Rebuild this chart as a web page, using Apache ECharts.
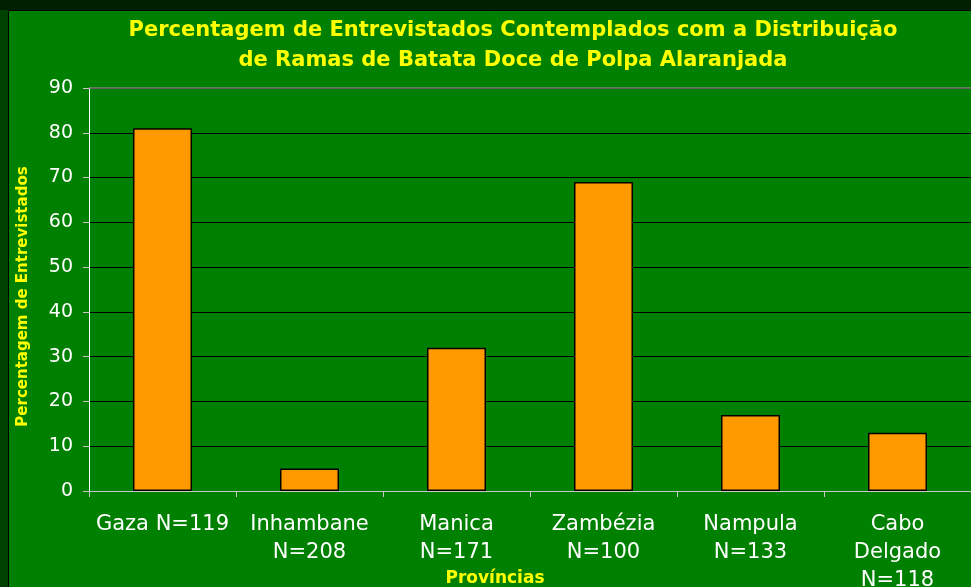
<!DOCTYPE html>
<html><head><meta charset="utf-8">
<script src="https://cdn.jsdelivr.net/npm/echarts@6/dist/echarts.min.js"></script>
<style>html,body{margin:0;padding:0;background:#008000;}#c{width:971px;height:587px;}</style>
</head><body><div id="c"></div>
<script>
const categories = ['Gaza N=119', 'Inhambane\nN=208', 'Manica\nN=171', 'Zambézia\nN=100', 'Nampula\nN=133', 'Cabo\nDelgado\nN=118'];
const values = [81, 5, 32, 69, 17, 13];
const titleText = 'Percentagem de Entrevistados Contemplados com a Distribuição\nde Ramas de Batata Doce de Polpa Alaranjada';
const yName = 'Percentagem de Entrevistados';
const xName = 'Províncias';
const yMax = 90;

const FONT = 'DejaVu Sans';
const chart = echarts.init(document.getElementById('c'));
chart.setOption({
  backgroundColor: '#008000',
  animation: false,
  graphic: [
    {type: 'rect', shape: {x: 0, y: 0, width: 971, height: 10}, style: {fill: '#002000'}, z: -10},
    {type: 'rect', shape: {x: 0, y: 0, width: 8, height: 587}, style: {fill: '#004000'}, z: -10},
    {type: 'rect', shape: {x: 0, y: 0, width: 8, height: 10}, style: {fill: '#002000'}, z: -9},
    {type: 'line', shape: {x1: 8, y1: 10.5, x2: 971, y2: 10.5}, style: {stroke: '#000000', lineWidth: 1}, z: -8},
    {type: 'line', shape: {x1: 8.5, y1: 10, x2: 8.5, y2: 587}, style: {stroke: '#000000', lineWidth: 1}, z: -8}
  ],
  title: {
    text: titleText,
    left: 508, top: 11, textAlign: 'center',
    textStyle: {color: '#ffff00', fontSize: 21, fontWeight: 'bold', fontFamily: FONT, lineHeight: 30}
  },
  grid: {left: 89, right: 0, top: 88, bottom: 96, outerBoundsMode: 'none', containLabel: false},
  xAxis: {
    type: 'category', data: categories,
    name: xName, nameLocation: 'middle', nameGap: 79, nameMoveOverlap: false,
    nameTextStyle: {color: '#ffff00', fontSize: 17, fontWeight: 'bold', fontFamily: FONT, padding: [0, 70, 0, 0]},
    axisLine: {lineStyle: {color: '#c8c8c8', width: 1}},
    axisTick: {show: true, length: 6, lineStyle: {color: '#c8c8c8'}},
    axisLabel: {color: '#ffffff', fontSize: 21, fontFamily: FONT, lineHeight: 28, margin: 20, interval: 0}
  },
  yAxis: {
    type: 'value', min: 0, max: yMax, interval: 10,
    name: yName, nameLocation: 'middle', nameGap: 58, nameMoveOverlap: false,
    nameTextStyle: {color: '#ffff00', fontSize: 15, fontWeight: 'bold', fontFamily: FONT, padding: [0, 14, 0, 0]},
    axisLine: {show: true, lineStyle: {color: '#ffffff', width: 1}},
    axisTick: {show: true, length: 6, lineStyle: {color: '#c8c8c8'}},
    axisLabel: {color: '#ffffff', fontSize: 19, fontFamily: FONT, margin: 16},
    splitLine: {lineStyle: {color: '#000000', width: 1}}
  },
  series: [{
    type: 'bar', data: values, barWidth: 59,
    itemStyle: {color: '#ff9900', borderColor: '#000000', borderWidth: 1.5},
    markLine: {
      silent: true, symbol: ['none', 'none'], label: {show: false},
      lineStyle: {color: '#808080', type: 'solid', width: 1.5},
      data: [{yAxis: yMax}]
    }
  }]
});
</script></body></html>
